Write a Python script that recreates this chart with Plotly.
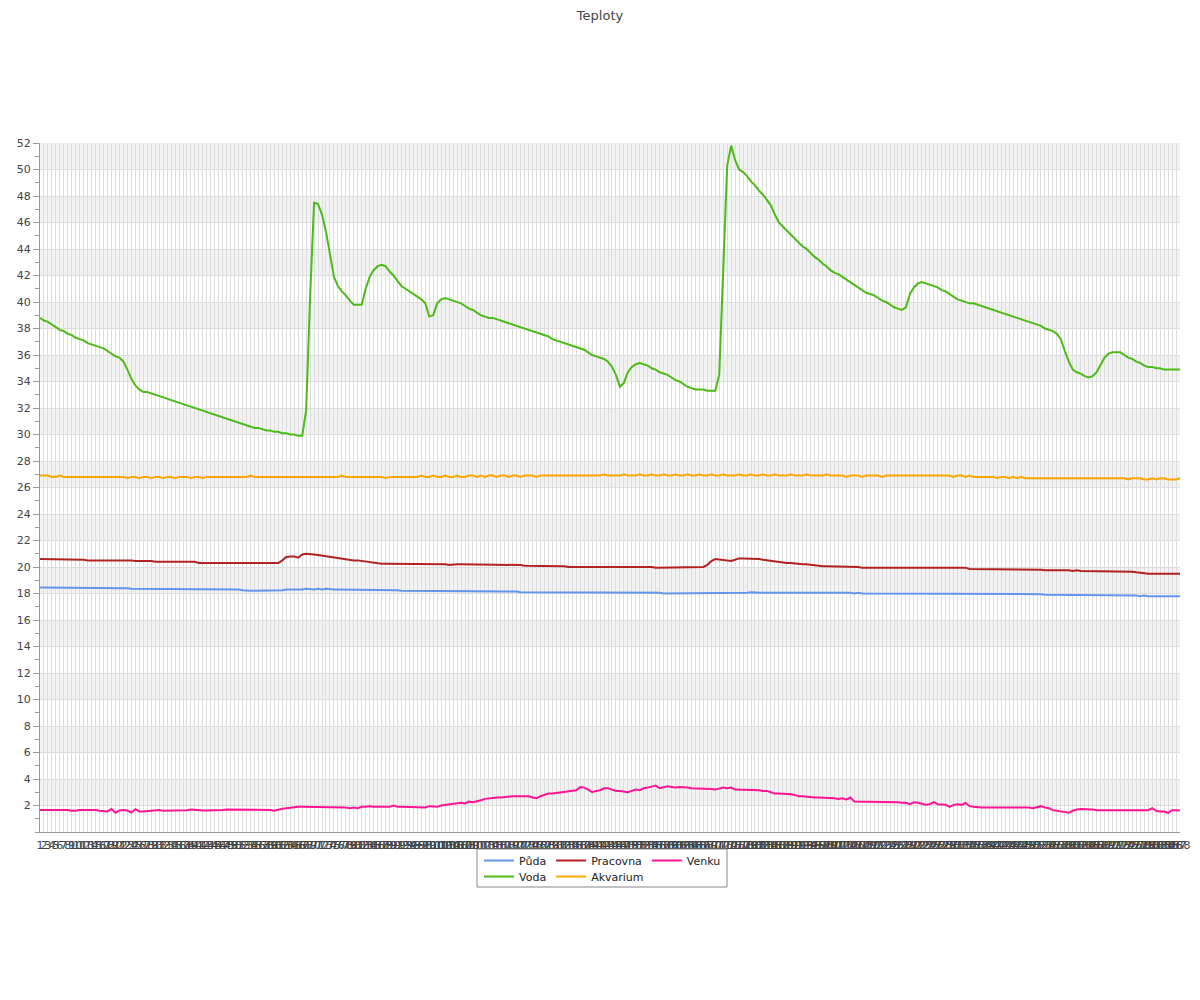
import plotly.graph_objects as go

labels = [str(i) for i in range(1, 289)]

puda = [
    18.45, 18.45, 18.45, 18.45, 18.45, 18.45, 18.45, 18.45, 18.45, 18.45, 18.45, 18.45,
    18.45, 18.45, 18.45, 18.45, 18.4, 18.4, 18.45, 18.45, 18.4, 18.4, 18.4, 18.35,
    18.35, 18.35, 18.35, 18.35, 18.35, 18.35, 18.35, 18.3, 18.35, 18.35, 18.3, 18.3,
    18.3, 18.3, 18.3, 18.3, 18.3, 18.3, 18.3, 18.3, 18.3, 18.3, 18.3, 18.3,
    18.3, 18.3, 18.3, 18.25, 18.2, 18.2, 18.2, 18.2, 18.2, 18.2, 18.2, 18.2,
    18.2, 18.25, 18.3, 18.3, 18.25, 18.3, 18.3, 18.35, 18.3, 18.3, 18.35, 18.3,
    18.35, 18.3, 18.3, 18.3, 18.3, 18.3, 18.3, 18.3, 18.3, 18.3, 18.3, 18.3,
    18.3, 18.3, 18.3, 18.3, 18.3, 18.25, 18.25, 18.2, 18.2, 18.2, 18.2, 18.2,
    18.2, 18.2, 18.2, 18.2, 18.2, 18.2, 18.2, 18.2, 18.2, 18.2, 18.2, 18.2,
    18.2, 18.2, 18.2, 18.2, 18.2, 18.2, 18.2, 18.2, 18.2, 18.15, 18.15, 18.15,
    18.15, 18.1, 18.1, 18.1, 18.1, 18.1, 18.1, 18.1, 18.1, 18.1, 18.1, 18.1,
    18.1, 18.1, 18.1, 18.1, 18.1, 18.1, 18.1, 18.1, 18.1, 18.1, 18.1, 18.1,
    18.1, 18.1, 18.1, 18.1, 18.1, 18.1, 18.1, 18.1, 18.1, 18.05, 18.05, 18.05,
    18.05, 18.0, 18.0, 18.0, 18.0, 18.0, 18.0, 18.0, 18.0, 18.0, 18.0, 18.0,
    18.0, 18.0, 18.0, 18.05, 18.05, 18.05, 18.05, 18.05, 18.05, 18.05, 18.05, 18.1,
    18.05, 18.05, 18.05, 18.05, 18.05, 18.05, 18.1, 18.05, 18.05, 18.05, 18.05, 18.05,
    18.05, 18.05, 18.05, 18.05, 18.05, 18.05, 18.05, 18.05, 18.05, 18.05, 18.05, 18.05,
    18.05, 18.0, 18.05, 18.0, 18.0, 18.0, 18.0, 18.0, 18.0, 18.0, 18.0, 18.0,
    18.0, 18.0, 18.0, 18.0, 18.0, 18.0, 18.0, 18.0, 18.0, 18.0, 18.0, 18.0,
    18.0, 18.0, 17.95, 18.0, 17.95, 17.95, 17.95, 17.95, 17.95, 17.95, 17.95, 17.95,
    17.95, 17.95, 17.95, 17.95, 17.95, 17.95, 17.95, 17.95, 17.95, 17.95, 17.95, 17.95,
    17.95, 17.9, 17.9, 17.9, 17.9, 17.85, 17.85, 17.85, 17.85, 17.85, 17.85, 17.85,
    17.85, 17.85, 17.85, 17.85, 17.85, 17.85, 17.85, 17.85, 17.85, 17.85, 17.85, 17.85,
    17.85, 17.8, 17.85, 17.8, 17.8, 17.8, 17.8, 17.8, 17.8, 17.8, 17.8, 17.8,
]

pracovna = [
    20.6, 20.6, 20.6, 20.6, 20.55, 20.55, 20.55, 20.55, 20.55, 20.55, 20.55, 20.55,
    20.5, 20.5, 20.5, 20.5, 20.5, 20.5, 20.55, 20.5, 20.5, 20.5, 20.5, 20.5,
    20.45, 20.45, 20.5, 20.45, 20.45, 20.4, 20.4, 20.4, 20.4, 20.4, 20.4, 20.4,
    20.4, 20.4, 20.4, 20.4, 20.3, 20.3, 20.3, 20.3, 20.3, 20.3, 20.3, 20.3,
    20.3, 20.35, 20.3, 20.3, 20.3, 20.3, 20.3, 20.3, 20.3, 20.3, 20.3, 20.3,
    20.3, 20.5, 20.75, 20.8, 20.8, 20.7, 20.95, 21.0, 21.0, 20.95, 20.9, 20.85,
    20.8, 20.75, 20.7, 20.7, 20.65, 20.55, 20.5, 20.5, 20.5, 20.45, 20.4, 20.35,
    20.3, 20.25, 20.25, 20.25, 20.25, 20.25, 20.25, 20.25, 20.25, 20.25, 20.25, 20.25,
    20.25, 20.25, 20.25, 20.25, 20.25, 20.2, 20.2, 20.15, 20.2, 20.2, 20.2, 20.2,
    20.15, 20.15, 20.15, 20.15, 20.15, 20.15, 20.2, 20.15, 20.2, 20.15, 20.15, 20.2,
    20.15, 20.15, 20.1, 20.1, 20.1, 20.1, 20.05, 20.05, 20.05, 20.05, 20.1, 20.05,
    20.05, 20.0, 20.0, 20.0, 20.05, 20.0, 20.05, 20.05, 20.05, 20.05, 20.05, 20.05,
    20.05, 20.05, 20.05, 20.05, 20.05, 20.05, 20.05, 20.0, 20.0, 20.0, 20.0, 19.95,
    19.95, 19.95, 19.95, 19.95, 19.95, 19.95, 20.0, 20.0, 19.95, 19.95, 19.95, 20.0,
    20.15, 20.45, 20.6, 20.55, 20.5, 20.5, 20.45, 20.55, 20.65, 20.65, 20.65, 20.65,
    20.6, 20.6, 20.55, 20.5, 20.45, 20.4, 20.35, 20.35, 20.3, 20.3, 20.25, 20.25,
    20.2, 20.2, 20.15, 20.1, 20.1, 20.05, 20.05, 20.05, 20.05, 20.05, 20.05, 20.05,
    20.0, 20.0, 20.0, 19.95, 19.95, 19.95, 19.95, 19.95, 19.95, 19.95, 19.95, 19.95,
    20.0, 19.95, 19.95, 19.95, 19.95, 19.95, 19.95, 19.95, 19.95, 19.95, 19.95, 19.95,
    19.95, 19.95, 19.95, 19.95, 19.95, 19.95, 19.85, 19.85, 19.85, 19.85, 19.85, 19.85,
    19.85, 19.85, 19.85, 19.85, 19.85, 19.8, 19.8, 19.85, 19.85, 19.8, 19.8, 19.8,
    19.8, 19.75, 19.75, 19.8, 19.8, 19.8, 19.8, 19.75, 19.7, 19.75, 19.7, 19.7,
    19.7, 19.65, 19.7, 19.7, 19.7, 19.7, 19.7, 19.7, 19.7, 19.7, 19.65, 19.65,
    19.6, 19.55, 19.55, 19.5, 19.5, 19.5, 19.5, 19.5, 19.5, 19.5, 19.5, 19.5,
]

venku = [
    1.66, 1.66, 1.66, 1.66, 1.7, 1.66, 1.66, 1.66, 1.6, 1.6, 1.66, 1.66,
    1.7, 1.7, 1.66, 1.6, 1.6, 1.55, 1.74, 1.46, 1.62, 1.66, 1.62, 1.46,
    1.72, 1.55, 1.55, 1.58, 1.58, 1.6, 1.66, 1.6, 1.6, 1.62, 1.62, 1.62,
    1.62, 1.64, 1.7, 1.66, 1.62, 1.62, 1.62, 1.62, 1.62, 1.62, 1.66, 1.7,
    1.7, 1.66, 1.7, 1.66, 1.66, 1.7, 1.66, 1.66, 1.7, 1.66, 1.66, 1.6,
    1.7, 1.75, 1.8, 1.85, 1.9, 1.9, 1.9, 1.9, 1.85, 1.9, 1.85, 1.85,
    1.9, 1.9, 1.9, 1.9, 1.9, 1.85, 1.8, 1.85, 1.8, 1.9, 1.9, 1.95,
    1.9, 1.9, 1.9, 1.9, 1.9, 2.0, 1.9, 1.9, 1.9, 1.9, 1.9, 1.85,
    1.9, 1.85, 1.95, 1.9, 1.9, 2.0, 2.05, 2.1, 2.1, 2.15, 2.2, 2.15,
    2.3, 2.25, 2.3, 2.4, 2.5, 2.55, 2.6, 2.6, 2.6, 2.65, 2.65, 2.7,
    2.7, 2.7, 2.75, 2.7, 2.6, 2.55, 2.7, 2.8, 2.9, 2.9, 2.95, 3.0,
    3.0, 3.05, 3.1, 3.15, 3.4, 3.35, 3.2, 3.0, 3.1, 3.15, 3.3, 3.3,
    3.2, 3.1, 3.1, 3.05, 3.0, 3.1, 3.2, 3.15, 3.3, 3.35, 3.45, 3.5,
    3.3, 3.4, 3.45, 3.4, 3.35, 3.4, 3.4, 3.35, 3.3, 3.3, 3.25, 3.25,
    3.3, 3.25, 3.2, 3.25, 3.35, 3.3, 3.35, 3.2, 3.2, 3.2, 3.2, 3.15,
    3.15, 3.15, 3.1, 3.1, 3.0, 2.9, 2.9, 2.9, 2.9, 2.85, 2.8, 2.7,
    2.7, 2.65, 2.65, 2.6, 2.6, 2.6, 2.6, 2.55, 2.55, 2.5, 2.55, 2.45,
    2.6, 2.3, 2.3, 2.25, 2.25, 2.3, 2.25, 2.25, 2.25, 2.25, 2.25, 2.25,
    2.25, 2.2, 2.2, 2.1, 2.25, 2.2, 2.1, 2.05, 2.1, 2.25, 2.1, 2.05,
    2.05, 1.9, 2.05, 2.1, 2.05, 2.2, 1.95, 1.9, 1.85, 1.85, 1.85, 1.85,
    1.85, 1.85, 1.85, 1.9, 1.85, 1.85, 1.85, 1.85, 1.85, 1.85, 1.8, 1.85,
    1.95, 1.85, 1.8, 1.65, 1.6, 1.6, 1.55, 1.45, 1.6, 1.7, 1.74, 1.74,
    1.74, 1.7, 1.65, 1.65, 1.65, 1.65, 1.65, 1.65, 1.65, 1.65, 1.65, 1.65,
    1.65, 1.65, 1.65, 1.65, 1.8, 1.6, 1.55, 1.55, 1.45, 1.65, 1.65, 1.62,
]

voda = [
    38.8, 38.6, 38.5, 38.3, 38.1, 37.9, 37.8, 37.6, 37.5, 37.3, 37.2, 37.1,
    36.9, 36.8, 36.7, 36.6, 36.5, 36.3, 36.1, 35.9, 35.8, 35.5, 34.9, 34.2,
    33.7, 33.4, 33.2, 33.2, 33.1, 33.0, 32.9, 32.8, 32.7, 32.6, 32.5, 32.4,
    32.3, 32.2, 32.1, 32.0, 31.9, 31.8, 31.7, 31.6, 31.5, 31.4, 31.3, 31.2,
    31.1, 31.0, 30.9, 30.8, 30.7, 30.6, 30.5, 30.5, 30.4, 30.3, 30.3, 30.2,
    30.2, 30.1, 30.1, 30.0, 30.0, 29.9, 29.9, 31.8, 40.4, 47.5, 47.4, 46.6,
    45.3, 43.7, 41.9, 41.2, 40.8, 40.5, 40.1, 39.8, 39.8, 39.8, 41.0, 41.9,
    42.4, 42.7, 42.8, 42.7, 42.3, 42.0, 41.6, 41.2, 41.0, 40.8, 40.6, 40.4,
    40.2, 39.9, 38.9, 39.0, 39.9, 40.2, 40.3, 40.2, 40.1, 40.0, 39.9, 39.7,
    39.5, 39.4, 39.2, 39.0, 38.9, 38.8, 38.8, 38.7, 38.6, 38.5, 38.4, 38.3,
    38.2, 38.1, 38.0, 37.9, 37.8, 37.7, 37.6, 37.5, 37.4, 37.2, 37.1, 37.0,
    36.9, 36.8, 36.7, 36.6, 36.5, 36.4, 36.2, 36.0, 35.9, 35.8, 35.7, 35.5,
    35.1, 34.5, 33.6, 33.9, 34.7, 35.1, 35.3, 35.4, 35.3, 35.2, 35.0, 34.9,
    34.7, 34.6, 34.5, 34.3, 34.1, 34.0, 33.8, 33.6, 33.5, 33.4, 33.4, 33.4,
    33.3, 33.3, 33.3, 34.5, 42.0, 50.3, 51.8, 50.7, 50.0, 49.8, 49.5, 49.1,
    48.8, 48.4, 48.1, 47.7, 47.3, 46.6, 46.0, 45.7, 45.4, 45.1, 44.8, 44.5,
    44.2, 44.0, 43.7, 43.4, 43.2, 42.9, 42.7, 42.4, 42.2, 42.1, 41.9, 41.7,
    41.5, 41.3, 41.1, 40.9, 40.7, 40.6, 40.5, 40.3, 40.1, 40.0, 39.8, 39.6,
    39.5, 39.4, 39.6, 40.6, 41.1, 41.4, 41.5, 41.4, 41.3, 41.2, 41.1, 40.9,
    40.8, 40.6, 40.4, 40.2, 40.1, 40.0, 39.9, 39.9, 39.8, 39.7, 39.6, 39.5,
    39.4, 39.3, 39.2, 39.1, 39.0, 38.9, 38.8, 38.7, 38.6, 38.5, 38.4, 38.3,
    38.2, 38.0, 37.9, 37.8, 37.6, 37.2, 36.3, 35.5, 34.9, 34.7, 34.6, 34.4,
    34.3, 34.4, 34.7, 35.2, 35.8, 36.1, 36.2, 36.2, 36.2, 36.0, 35.8, 35.7,
    35.5, 35.4, 35.2, 35.1, 35.1, 35.0, 35.0, 34.9, 34.9, 34.9, 34.9, 34.9,
]

akvarium = [
    26.9, 26.9, 26.9, 26.8, 26.8, 26.9, 26.8, 26.8, 26.8, 26.8, 26.8, 26.8,
    26.8, 26.8, 26.8, 26.8, 26.8, 26.8, 26.8, 26.8, 26.8, 26.8, 26.7, 26.8,
    26.8, 26.7, 26.8, 26.8, 26.7, 26.8, 26.8, 26.7, 26.8, 26.8, 26.7, 26.8,
    26.8, 26.8, 26.7, 26.8, 26.8, 26.7, 26.8, 26.8, 26.8, 26.8, 26.8, 26.8,
    26.8, 26.8, 26.8, 26.8, 26.8, 26.9, 26.8, 26.8, 26.8, 26.8, 26.8, 26.8,
    26.8, 26.8, 26.8, 26.8, 26.8, 26.8, 26.8, 26.8, 26.8, 26.8, 26.8, 26.8,
    26.8, 26.8, 26.8, 26.8, 26.9, 26.8, 26.8, 26.8, 26.8, 26.8, 26.8, 26.8,
    26.8, 26.8, 26.8, 26.7, 26.8, 26.8, 26.8, 26.8, 26.8, 26.8, 26.8, 26.8,
    26.9, 26.8, 26.8, 26.9, 26.8, 26.8, 26.9, 26.8, 26.8, 26.9, 26.8, 26.8,
    26.9, 26.9, 26.8, 26.9, 26.8, 26.9, 26.9, 26.8, 26.9, 26.9, 26.8, 26.9,
    26.9, 26.8, 26.9, 26.9, 26.9, 26.8, 26.9, 26.9, 26.9, 26.9, 26.9, 26.9,
    26.9, 26.9, 26.9, 26.9, 26.9, 26.9, 26.9, 26.9, 26.9, 26.9, 27.0, 26.9,
    26.9, 26.9, 26.9, 27.0, 26.9, 26.9, 26.9, 27.0, 26.9, 26.9, 27.0, 26.9,
    26.9, 27.0, 26.9, 26.9, 27.0, 26.9, 26.9, 27.0, 26.9, 26.9, 27.0, 26.9,
    26.9, 27.0, 26.9, 26.9, 27.0, 26.9, 26.9, 26.9, 27.0, 26.9, 26.9, 27.0,
    26.9, 26.9, 27.0, 26.9, 26.9, 27.0, 26.9, 26.9, 26.9, 27.0, 26.9, 26.9,
    26.9, 27.0, 26.9, 26.9, 26.9, 26.9, 27.0, 26.9, 26.9, 26.9, 26.9, 26.8,
    26.9, 26.9, 26.9, 26.8, 26.9, 26.9, 26.9, 26.9, 26.8, 26.9, 26.9, 26.9,
    26.9, 26.9, 26.9, 26.9, 26.9, 26.9, 26.9, 26.9, 26.9, 26.9, 26.9, 26.9,
    26.9, 26.9, 26.8, 26.9, 26.9, 26.8, 26.9, 26.8, 26.8, 26.8, 26.8, 26.8,
    26.8, 26.7, 26.8, 26.8, 26.7, 26.8, 26.7, 26.8, 26.7, 26.7, 26.7, 26.7,
    26.7, 26.7, 26.7, 26.7, 26.7, 26.7, 26.7, 26.7, 26.7, 26.7, 26.7, 26.7,
    26.7, 26.7, 26.7, 26.7, 26.7, 26.7, 26.7, 26.7, 26.7, 26.7, 26.6, 26.7,
    26.7, 26.7, 26.6, 26.6, 26.7, 26.6, 26.7, 26.7, 26.6, 26.6, 26.6, 26.7,
]

series_names = ["Půda", "Pracovna", "Venku", "Voda", "Akvarium"]
series_values = [puda, pracovna, venku, voda, akvarium]
series_colors = ["#6495ED", "#B22222", "#FF1493", "#4CBB17", "#FFA500"]
series_legend = ["legend", "legend", "legend", "legend2", "legend2"]

y_tick_values = list(range(2, 53, 2))

FONT = "DejaVu Sans"

# page body adds an 8px offset; margins compensate so the plot area sits at
# x 40..1180, y 143..832 in the screenshot
ML, MR, MT, MB = 32, 28, 135, 176


def px_x(p):
    return (p - 40) / 1140


def px_y(p):
    return (832 - p) / 689


fig = go.Figure()
for name, vals, col, lg in zip(series_names, series_values, series_colors, series_legend):
    fig.add_trace(go.Scatter(
        x=labels, y=vals, name=name, mode="lines",
        line=dict(color=col, width=2), legend=lg,
    ))

shapes = []
for k in range(13):
    shapes.append(dict(type="rect", xref="x domain", yref="y",
                       x0=0, x1=1, y0=2 + 4 * k, y1=4 + 4 * k,
                       fillcolor="#f2f2f2", line=dict(width=0), layer="below"))
# legend frame
shapes.append(dict(type="rect", xref="paper", yref="paper",
                   x0=px_x(477), x1=px_x(727),
                   y0=px_y(887), y1=px_y(849),
                   line=dict(color="#888888", width=1), fillcolor="rgba(0,0,0,0)",
                   layer="above"))

fig.update_layout(
    width=1200, height=1000,
    margin=dict(l=ML, r=MR, t=MT, b=MB),
    paper_bgcolor="white", plot_bgcolor="white",
    font=dict(family=FONT, size=11, color="#444444"),
    title=dict(text="Teploty", x=(600 - 8) / 1200, xanchor="center", y=0.993, yanchor="middle",
               font=dict(family=FONT, size=13, color="#444444")),
    shapes=shapes,
    showlegend=True,
    legend=dict(orientation="h", x=px_x(479), xanchor="left",
                y=px_y(846), yanchor="top",
                bgcolor="rgba(0,0,0,0)", borderwidth=0, itemwidth=30,
                font=dict(family=FONT, size=11, color="#222222"),
                tracegroupgap=0),
    legend2=dict(orientation="h", x=px_x(479), xanchor="left",
                 y=px_y(862), yanchor="top",
                 bgcolor="rgba(0,0,0,0)", borderwidth=0, itemwidth=30,
                 font=dict(family=FONT, size=11, color="#222222"),
                 tracegroupgap=0),
)

fig.update_xaxes(
    type="category", categoryorder="array", categoryarray=labels,
    range=[0, len(labels) - 1],
    tickmode="array", tickvals=labels, ticktext=labels, tickangle=0,
    showgrid=True, gridcolor="#dddddd", gridwidth=1,
    showline=True, linecolor="#999999", linewidth=1,
    ticks="", ticklabelstandoff=3,
    tickfont=dict(family=FONT, size=11, color="#444444"),
    zeroline=False, fixedrange=True, automargin=False,
)
fig.update_yaxes(
    range=[0, 52], tickmode="array", tickvals=y_tick_values,
    showgrid=True, gridcolor="#dddddd", gridwidth=1,
    showline=True, linecolor="#999999", linewidth=1,
    ticks="outside", ticklen=6, tickcolor="#999999",
    minor=dict(dtick=1, tick0=0, ticks="outside", ticklen=4, tickcolor="#999999", showgrid=False),
    tickfont=dict(family=FONT, size=11, color="#444444"),
    zeroline=False, fixedrange=True, automargin=False,
)

fig.write_html("out.html")
